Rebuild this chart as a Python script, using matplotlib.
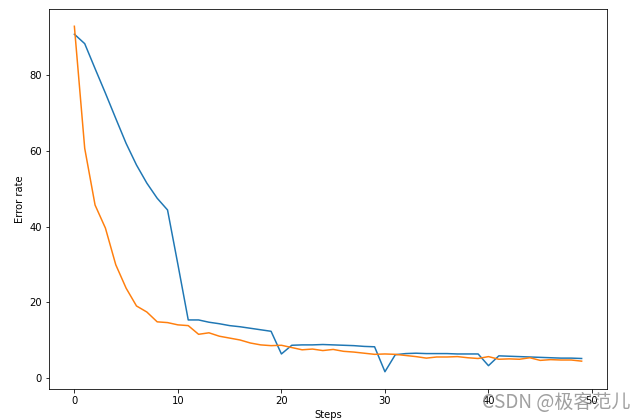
import matplotlib
matplotlib.use("Agg")
import matplotlib.pyplot as plt

# error rate per step
steps = list(range(50))
error_a = [90.9, 88.4, 81.8, 75.3, 68.6, 62.0, 56.3, 51.5, 47.5, 44.4,
           30.0, 15.3, 15.3, 14.7, 14.3, 13.8, 13.5, 13.1, 12.7, 12.3,
           6.3, 8.6, 8.7, 8.7, 8.8, 8.7, 8.6, 8.5, 8.3, 8.2,
           1.6, 6.1, 6.4, 6.5, 6.4, 6.4, 6.4, 6.3, 6.3, 6.3,
           3.2, 5.8, 5.7, 5.6, 5.5, 5.4, 5.3, 5.2, 5.2, 5.1]
error_b = [93.0, 60.7, 45.7, 39.6, 29.9, 23.7, 19.0, 17.4, 14.8, 14.6,
           14.0, 13.8, 11.5, 11.9, 11.0, 10.5, 10.0, 9.2, 8.7, 8.5,
           8.6, 8.0, 7.4, 7.6, 7.2, 7.5, 7.0, 6.8, 6.5, 6.2,
           6.3, 6.2, 5.9, 5.6, 5.2, 5.5, 5.5, 5.6, 5.3, 5.1,
           5.6, 4.9, 5.0, 4.9, 5.3, 4.6, 4.8, 4.7, 4.7, 4.4]

W, H = 641, 420
fig = plt.figure(figsize=(W / 72, H / 72), dpi=72)
ax = fig.add_axes([49 / W, (H - 389) / H, 558 / W, 380 / H])

ax.plot(steps, error_a, color='#1f77b4')
ax.plot(steps, error_b, color='#ff7f0e')
ax.set_xlabel('Steps')
ax.set_ylabel('Error rate')

# watermark (overlaps the last tick labels, as in the original)
fig.text(630 / W, 1 - 403 / H, 'CSDN @极客范儿', ha='right', va='center',
         fontsize=19, color='#888888', alpha=0.8,
         family=['Noto Sans CJK SC', 'DejaVu Sans'])

fig.savefig('out.png', dpi=72)
